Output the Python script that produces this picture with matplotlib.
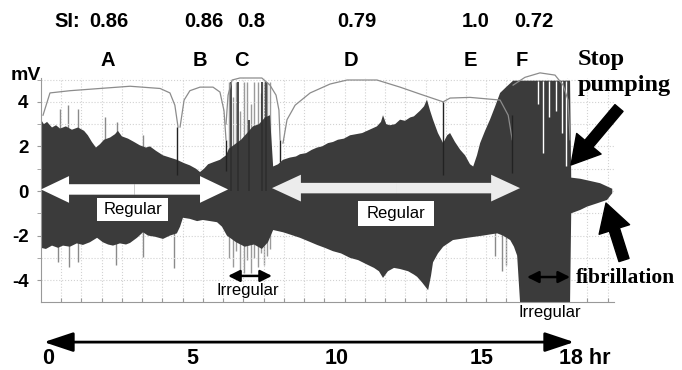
import matplotlib.pyplot as plt
import numpy as np
from matplotlib.patches import FancyArrow, Rectangle

plt.rcParams['axes.unicode_minus'] = False
SANS = ['Liberation Sans', 'DejaVu Sans']
NARROW = ['Liberation Sans Narrow', 'Liberation Sans', 'DejaVu Sans']
SERIF = ['Liberation Serif', 'DejaVu Serif']

# ---- values: time in hours, voltage in mV ----
# outer envelope of the recorded trace
upper_t = [-0.24, -0.14, -0.03, 0.14, 0.28, 0.42, 0.62, 0.83, 1.04, 1.25, 1.38, 1.52, 1.66, 1.80, 1.94,
           2.15, 2.32, 2.42, 2.56, 2.77, 2.98, 3.18, 3.39, 3.53, 3.74, 3.98, 4.22, 4.46, 4.71, 4.91,
           5.12, 5.26, 5.40, 5.54, 5.74, 5.95, 6.16,
           6.26, 6.47, 6.68, 6.89, 7.09, 7.30, 7.51, 7.68, 7.79,
           7.96, 8.13, 8.37, 8.58, 8.72, 8.93, 9.13, 9.31, 9.48, 9.69, 9.86, 10.03, 10.24, 10.45,
           10.66, 10.87, 11.04, 11.21, 11.38, 11.52, 11.59, 11.70, 11.83, 12.01, 12.18, 12.35, 12.53,
           12.66, 12.87, 13.01, 13.11, 13.22, 13.32, 13.49, 13.67, 13.81, 13.91, 14.08, 14.26, 14.43,
           14.60, 14.71, 14.84, 14.95, 15.12, 15.29, 15.47, 15.64, 15.88, 16.09,
           18.06, 18.10, 18.41, 18.76, 19.10, 19.52]
upper_v = [3.2, 3.0, 3.1, 2.85, 2.95, 2.8, 2.9, 2.75, 2.85, 2.7, 2.5, 2.2, 1.95, 2.1, 2.3,
           2.4, 2.55, 2.7, 2.45, 2.35, 2.2, 2.05, 1.95, 2.0, 1.8, 1.6, 1.5, 1.4, 1.25, 1.15,
           1.0, 0.85, 1.0, 1.2, 1.3, 1.4, 1.6,
           1.9, 2.1, 2.3, 2.6, 2.9, 3.0, 3.3, 3.4, 1.1,
           1.2, 1.4, 1.5, 1.55, 1.65, 1.7, 1.85, 1.95, 2.0, 2.15, 2.2, 2.3, 2.35, 2.5,
           2.55, 2.6, 2.7, 2.8, 2.9, 3.1, 3.4, 3.0, 2.95, 3.0, 3.2, 3.15, 3.3,
           3.35, 3.6, 3.8, 4.1, 3.6, 3.2, 2.6, 2.15, 2.5, 2.6, 2.2, 1.85, 1.6,
           1.2, 1.1, 1.6, 2.15, 2.7, 3.2, 3.8, 4.4, 4.7, 4.95,
           4.95, 0.6, 0.55, 0.45, 0.35, 0.1]
lower_t = [-0.24, -0.07, 0.14, 0.35, 0.52, 0.76, 1.00, 1.21, 1.45, 1.70, 1.90, 2.08, 2.25, 2.49, 2.70,
           2.84, 3.08, 3.29, 3.46, 3.70, 3.98, 4.22, 4.46, 4.57, 4.67, 4.91, 5.16, 5.36, 5.61, 5.85,
           6.02, 6.19, 6.51, 6.81, 7.13, 7.40, 7.61, 7.79,
           8.13, 8.37, 8.72, 9.00, 9.31, 9.58, 9.86, 10.14, 10.45, 10.73, 11.04, 11.28, 11.45, 11.59,
           11.76, 11.97, 12.18, 12.46, 12.66, 12.77, 12.94, 13.15, 13.25, 13.32, 13.49, 13.67, 13.84,
           14.01, 14.26, 14.50, 14.77, 15.05, 15.29, 15.54, 15.74, 15.99, 16.12, 16.23, 16.33,
           18.06, 18.10, 18.41, 18.65, 19.00, 19.34, 19.52]
lower_v = [-2.55, -2.6, -2.45, -2.55, -2.45, -2.5, -2.35, -2.42, -2.3, -2.1, -2.3, -2.4, -2.45, -2.35, -2.4,
           -2.33, -2.1, -1.85, -2.0, -2.05, -2.15, -2.0, -1.9, -1.6, -1.2, -1.25, -1.35, -1.3, -1.35, -1.4,
           -1.6, -2.0, -2.3, -2.5, -2.4, -2.6, -2.3, -1.75,
           -1.85, -1.95, -2.1, -2.25, -2.42, -2.55, -2.7, -2.8, -3.0, -3.1, -3.3, -3.45, -3.6, -3.9,
           -3.6, -3.45, -3.5, -3.6, -3.75, -3.85, -4.1, -4.45, -3.8, -3.2, -2.8, -2.5, -2.35,
           -2.2, -2.15, -2.1, -2.05, -2.0, -1.95, -1.9, -2.0, -2.2, -2.5, -2.9, -4.98,
           -4.98, -1.0, -0.85, -0.7, -0.55, -0.4, -0.1]

# single light spikes sticking out of the envelope
spike_up_t = [0.42, 0.69, 1.04, 1.97, 2.39, 3.29]
spike_up_v = [3.7, 3.85, 3.7, 3.3, 3.1, 2.5]
spike_dn_t = [0.35, 0.73, 1.04, 2.35, 3.29, 4.36, 15.47, 15.71, 15.85]
spike_dn_v = [-3.2, -3.4, -3.2, -3.3, -2.95, -3.45, -2.9, -3.6, -3.3]

# irregular beats in segment C
c_light_t = [6.26, 6.40, 6.51, 6.64, 6.78, 6.89, 7.02, 7.13, 7.27, 7.37, 7.47, 7.58, 7.68]
c_light_top = [4.9, 4.2, 4.9, 3.6, 4.9, 4.9, 3.9, 4.9, 4.9, 4.4, 4.9, 4.9, 4.9]
c_light_bot = [-3.0, -3.4, -2.7, -3.6, -3.7, -3.1, -3.7, -3.0, -3.4, -2.8, -3.3, -2.9, -2.6]
c_dark_t = [6.33, 6.57, 6.96, 7.40, 7.54]
c_dark_top = [4.9, 4.9, 3.2, 4.9, 4.9]

# gaps in the saturated segment F
f_gap_t = [16.96, 17.13, 17.34, 17.58, 17.79, 17.92]
f_gap_bot = [3.9, 1.7, 3.3, 3.6, 2.6, 1.1]

# SI curves over each segment
si_a_t = [-0.17, 0.07, 0.76, 1.80, 2.84, 3.88, 4.22, 4.39, 4.50]
si_a_v = [3.4, 4.4, 4.5, 4.6, 4.7, 4.6, 4.4, 3.85, 2.87]
si_b_t = [4.57, 4.71, 4.91, 5.26, 5.71, 5.95, 6.09, 6.16]
si_b_v = [2.87, 4.08, 4.5, 4.66, 4.66, 4.44, 3.6, 2.3]
si_c_t = [6.16, 6.23, 6.37, 6.64, 7.40, 7.68, 7.89, 7.99, 8.03]
si_c_v = [3.0, 4.3, 4.98, 5.07, 5.07, 4.75, 4.3, 3.63, 2.3]
si_d_t = [8.13, 8.27, 8.55, 9.07, 9.76, 10.35, 11.38, 12.18, 12.87, 13.67]
si_d_v = [2.15, 3.2, 3.85, 4.4, 4.8, 4.98, 4.98, 4.66, 4.35, 4.0]
si_e_t = [13.67, 13.91, 14.60, 15.64, 15.92, 16.06]
si_e_v = [4.0, 4.17, 4.2, 4.08, 3.4, 2.3]
si_f_t = [16.09, 16.50, 17.02, 17.54, 17.82, 17.99, 18.06]
si_f_v = [4.75, 5.1, 5.3, 5.2, 4.75, 4.08, 2.3]
drop_t = [4.48, 6.17, 8.04, 13.67, 16.05]
drop_top = [2.87, 2.3, 2.3, 4.0, 3.4]
drop_bot = [0.7, 0.9, 1.3, 0.7, 0.8]

segments = ['A', 'B', 'C', 'D', 'E', 'F']
segment_t = [2.08, 5.26, 6.68, 10.48, 14.60, 16.40]
si_values = ['0.86', '0.86', '0.8', '0.79', '1.0', '0.72']
si_value_t = [2.11, 5.40, 7.02, 10.69, 14.81, 16.82]
hour_ticks = [0, 5, 10, 15, 18]
hour_labels = ['0', '5', '10', '15', '18 hr']
mv_ticks = [4, 2, 0, -2, -4]

W, H = 682, 370
TRACE = '#3b3b3b'


def fp(x, y):
    # pixel position in the picture -> figure fraction
    return x / W, 1 - y / H


def double_arrow(ax, x0, x1, y, color, width, head_width, head_length):
    mid = (x0 + x1) / 2
    for end in (x0, x1):
        ax.add_patch(FancyArrow(mid, y, end - mid, 0, width=width, head_width=head_width,
                                head_length=head_length, length_includes_head=True,
                                color=color, lw=0, zorder=5))


fig = plt.figure(figsize=(W / 100, H / 100), dpi=100)
ax = fig.add_axes([41 / W, 1 - 302 / H, 573 / W, 224 / H])
ax.set_xlim(-0.24, 19.58)
ax.set_ylim(-4.98, 5.07)

# grid
ax.set_xticks(np.arange(0.46, 19.5, 0.7))
ax.set_xticklabels([])
ax.set_yticks(mv_ticks)
ax.set_yticklabels([str(v) for v in mv_ticks], fontsize=13.5, fontweight='bold', family=SANS)
ax.set_yticks([-3, -1, 1, 3, 5], minor=True)
ax.grid(True, which='both', color='#d2d2d2', ls=':', lw=0.8)
ax.tick_params(axis='y', which='both', length=3, color='#999999', pad=6)
ax.tick_params(axis='x', direction='in', length=3, color='#999999')
for s in ('top', 'right'):
    ax.spines[s].set_visible(False)
for s in ('left', 'bottom'):
    ax.spines[s].set_color('#999999')
    ax.spines[s].set_linewidth(0.8)

# trace: spikes sit behind the envelope so only their tips show
ax.vlines(spike_up_t, 0, spike_up_v, color='#8a8a8a', lw=1, zorder=1.5)
ax.vlines(spike_dn_t, spike_dn_v, 0, color='#8a8a8a', lw=1, zorder=1.5)
ax.vlines(c_light_t, c_light_bot, c_light_top, color='#9a9a9a', lw=1, zorder=1.5)
ax.fill(upper_t + lower_t[::-1], upper_v + lower_v[::-1], color=TRACE, lw=0, zorder=2)
ax.vlines(c_dark_t, 0, c_dark_top, color='#2e2e2e', lw=1.2, zorder=2)
ax.vlines(f_gap_t, f_gap_bot, 4.95, color='white', lw=1, zorder=2)

for t, v in [(si_a_t, si_a_v), (si_b_t, si_b_v), (si_c_t, si_c_v),
             (si_d_t, si_d_v), (si_e_t, si_e_v), (si_f_t, si_f_v)]:
    ax.plot(t, v, color='#8c8c8c', lw=0.9, zorder=3, clip_on=False)
ax.vlines(drop_t, drop_bot, drop_top, color='#222222', lw=1, zorder=3)

# regular / irregular markers
double_arrow(ax, -0.24, 6.23, 0.07, 'white', 0.47, 1.2, 0.97)
double_arrow(ax, 7.75, 16.33, 0.13, '#ececec', 0.47, 1.2, 1.0)
ax.add_patch(Rectangle((1.70, -1.35), 2.45, 1.04, fc='white', ec='none', zorder=5))
ax.add_patch(Rectangle((10.73, -1.57), 2.63, 1.12, fc='white', ec='none', zorder=5))
ax.text(2.93, -0.83, 'Regular', ha='center', va='center', fontsize=12, family=SANS, zorder=6)
ax.text(12.04, -1.01, 'Regular', ha='center', va='center', fontsize=12, family=SANS, zorder=6)

for x0, x1, y in [(6.23, 7.75, -3.81), (16.57, 18.06, -3.86)]:
    ax.annotate('', xy=(x1, y), xytext=(x0, y), zorder=6,
                arrowprops=dict(arrowstyle='<|-|>,head_length=0.7,head_width=0.35', mutation_scale=10,
                                lw=1.8, color='black', shrinkA=0, shrinkB=0))
ax.text(6.92, -4.48, 'Irregular', ha='center', va='center', fontsize=12, family=SANS, zorder=6)
ax.text(17.37, -5.47, 'Irregular', ha='center', va='center', fontsize=12, family=SANS, zorder=6)

# labels above the trace
xt = ax.get_xaxis_transform()
ax.text(0.66, 1.254, 'SI:', transform=xt, ha='center', va='center', fontsize=14.5,
        fontweight='bold', family=SANS)
for t, s in zip(si_value_t, si_values):
    ax.text(t, 1.254, s, transform=xt, ha='center', va='center', fontsize=14.5,
            fontweight='bold', family=SANS)
for t, s in zip(segment_t, segments):
    ax.text(t, 1.08, s, transform=xt, ha='center', va='center', fontsize=14.5,
            fontweight='bold', family=SANS)
fig.text(*fp(26, 75), 'mV', ha='center', va='center', fontsize=14, fontweight='bold', family=SANS)

# time axis below
ax.annotate('', xy=(18.2, -0.179), xytext=(-0.14, -0.179), xycoords=xt, annotation_clip=False,
            arrowprops=dict(arrowstyle='<|-|>,head_length=1.8,head_width=0.6', mutation_scale=10,
                            lw=2, color='black', shrinkA=0, shrinkB=0))
for t, s in zip(hour_ticks, hour_labels):
    if s.endswith('hr'):
        ax.annotate(s, xy=(t, -0.25), xycoords=xt, xytext=(-9, 0), textcoords='offset pixels',
                    ha='left', va='center', fontsize=15.5, fontweight='bold', family=NARROW,
                    annotation_clip=False)
    else:
        ax.text(t, -0.25, s, transform=xt, ha='center', va='center', fontsize=15.5,
                fontweight='bold', family=NARROW)

# stop pumping / fibrillation call-outs
fig.text(*fp(578, 65), 'Stop', ha='left', va='baseline', fontsize=17.5, fontweight='bold', family=SERIF)
fig.text(*fp(578, 91), 'pumping', ha='left', va='baseline', fontsize=17.5, fontweight='bold', family=SERIF)
fig.text(*fp(576, 283), 'fibrillation', ha='left', va='baseline', fontsize=15.5, fontweight='bold',
         family=SERIF)
big = dict(arrowstyle='simple,head_length=1.0,head_width=1.15,tail_width=0.38', mutation_scale=20,
           color='black', shrinkA=0, shrinkB=0)
ax.annotate('', xy=(571, H - 165), xytext=(619, H - 108), xycoords='figure pixels',
            annotation_clip=False, arrowprops=big)
ax.annotate('', xy=(606, H - 203), xytext=(624, H - 260), xycoords='figure pixels',
            annotation_clip=False, arrowprops=big)

fig.savefig('out.png', dpi=100)
